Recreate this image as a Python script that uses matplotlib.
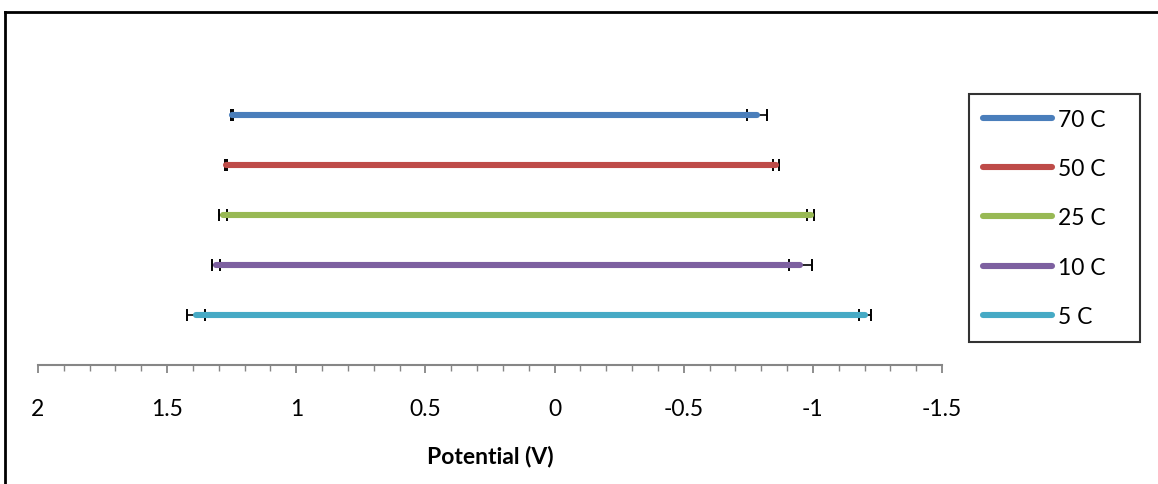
import matplotlib
matplotlib.use("Agg")
import matplotlib.pyplot as plt
from matplotlib.lines import Line2D
from matplotlib.ticker import MultipleLocator

plt.rcParams['font.family'] = ['Lato', 'DejaVu Sans']

# data
labels = ['70 C', '50 C', '25 C', '10 C', '5 C']
colors = ['#4A7EBB', '#BE4B48', '#98B954', '#7D60A0', '#46AAC5']
levels = [5, 4, 3, 2, 1]
left_v = [1.249, 1.272, 1.284, 1.311, 1.388]
left_err = [0.004, 0.003, 0.016, 0.016, 0.035]
right_v = [-0.784, -0.857, -0.991, -0.952, -1.202]
right_err = [0.039, 0.010, 0.014, 0.045, 0.023]

W, H = 1158, 485
fig = plt.figure(figsize=(W / 100, H / 100), dpi=100)
ax = fig.add_axes([38 / W, 1 - 366 / H, (942 - 38) / W, (366 - 66) / H])

handles = []
for i in range(len(labels)):
    ax.errorbar([left_v[i], right_v[i]], [levels[i], levels[i]],
                xerr=[left_err[i], right_err[i]], fmt='none',
                ecolor='black', elinewidth=1.2, capsize=4.5, capthick=1.4, zorder=2)
    ln, = ax.plot([left_v[i], right_v[i]], [levels[i], levels[i]], '-',
                  color=colors[i], lw=4.4, solid_capstyle='round', zorder=3)
    handles.append(ln)

ax.set_xlim(2, -1.5)
ax.set_ylim(0, 6)
ax.xaxis.set_major_locator(MultipleLocator(0.5))
ax.xaxis.set_minor_locator(MultipleLocator(0.1))
ax.set_xticks([2, 1.5, 1, 0.5, 0, -0.5, -1, -1.5])
ax.set_xticklabels(['2', '1.5', '1', '0.5', '0', '-0.5', '-1', '-1.5'])
ax.set_yticks([])
for s in ['top', 'left', 'right']:
    ax.spines[s].set_visible(False)
ax.spines['bottom'].set_color('#868686')
ax.spines['bottom'].set_linewidth(1.5)
ax.tick_params(axis='x', which='major', direction='out', length=6, width=1.3,
               color='#868686', labelsize=16.5, pad=18)
ax.tick_params(axis='x', which='minor', direction='out', length=4, width=1.0,
               color='#868686')
ax.set_xlabel('Potential (V)', fontsize=16.5, fontweight='bold', labelpad=18)

leg = ax.legend(handles, labels, loc='center left',
                bbox_to_anchor=(969 / W, 1 - 345 / H, (1140 - 969) / W, (345 - 93) / H),
                bbox_transform=fig.transFigure, mode='expand',
                fontsize=16.5, frameon=True, fancybox=False, borderaxespad=0,
                handlelength=3.0, handletextpad=0.25, labelspacing=1.24,
                borderpad=0.62)
leg.get_frame().set_edgecolor('black')
leg.get_frame().set_linewidth(1.5)

# outer chart border (only top and left visible in the crop)
fig.add_artist(Line2D([5 / W, 5 / W], [0, 1 - 13 / H], transform=fig.transFigure,
                      color='black', lw=2))
fig.add_artist(Line2D([5 / W, 1], [1 - 13 / H, 1 - 13 / H], transform=fig.transFigure,
                      color='black', lw=2))

fig.savefig('out.png', dpi=100)
